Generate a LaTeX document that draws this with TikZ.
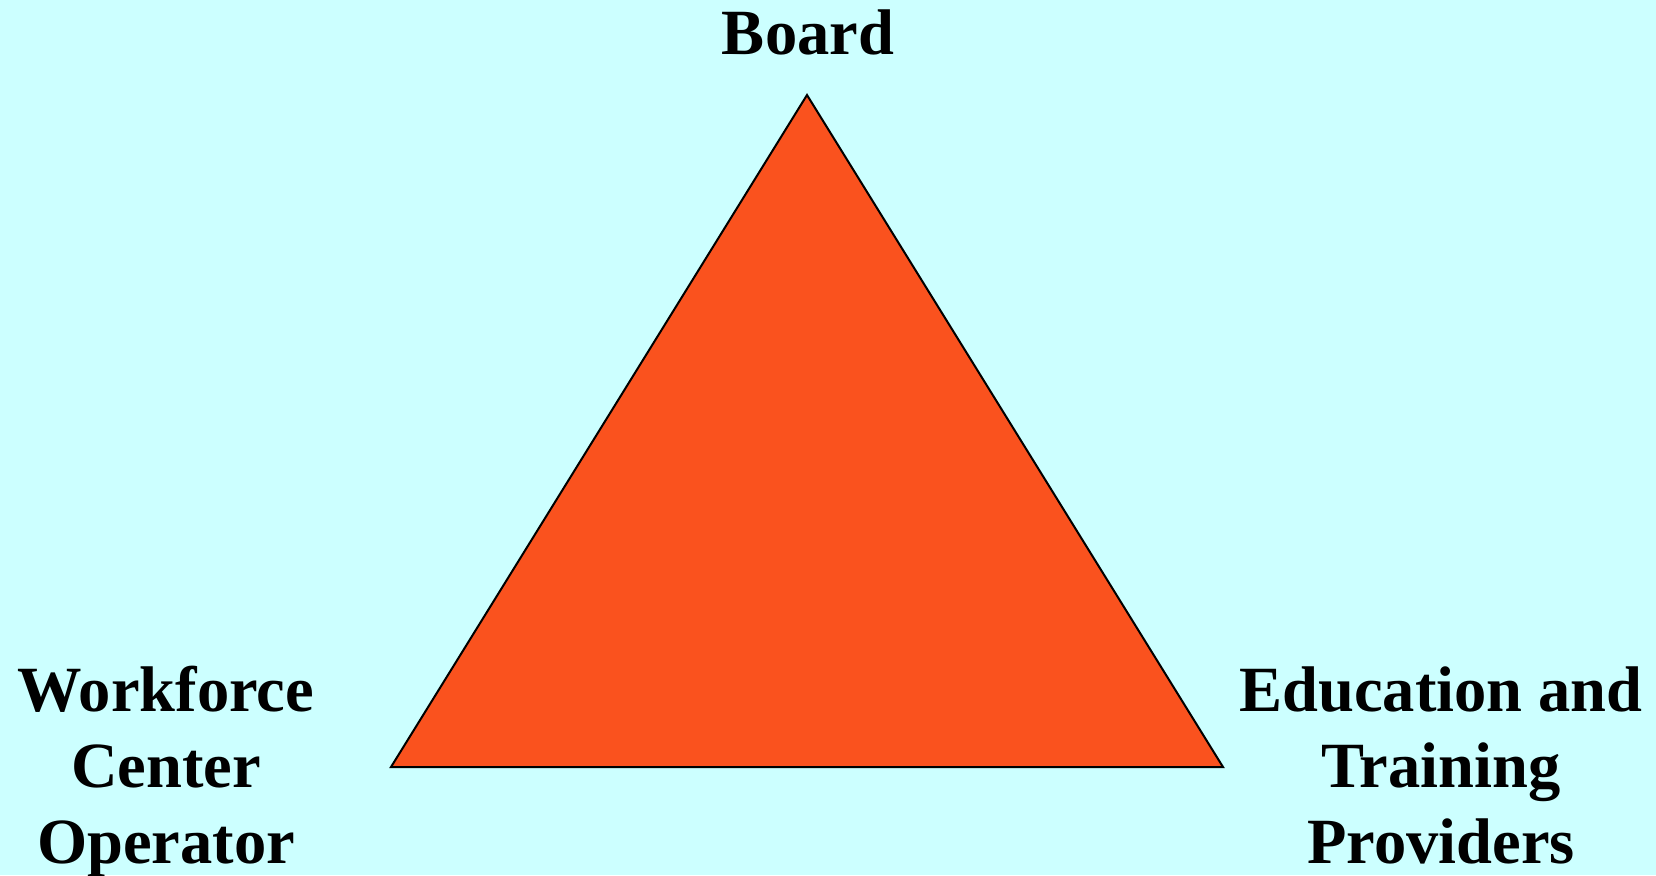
\documentclass[tikz,border=0pt]{standalone}
\usepackage{fontspec}
\setmainfont{Liberation Serif}
\usepackage{xcolor}
\usetikzlibrary{positioning}
\definecolor{skybg}{HTML}{CCFFFF}
\definecolor{tri}{HTML}{FA521E}

\begin{document}
\begin{tikzpicture}[
    x=0.5pt,y=0.5pt,
    every node/.style={font=\fontsize{32.25}{38}\selectfont\bfseries},
    corner/.style={align=center,anchor=base,inner sep=0pt},
    triangle/.style={fill=tri,draw=black,line width=1pt,line join=miter},
]
% Background
\fill[skybg] (0,0) rectangle (1656,875);
\useasboundingbox (0,0) rectangle (1656,875);
% Triangle
\coordinate (top) at (807,780);
\coordinate (left) at (391,108);
\coordinate (right) at (1223,108);
\draw[triangle] (top) -- (left) -- (right) -- cycle;
% Labels (base = last line)
\node[corner] (board) at (808,820) {Board};
\node[corner] (operator) at (166,12) {Workforce\\Center\\Operator};
\node[corner] (providers) at (1441,12) {Education and\\Training\\Providers};
\end{tikzpicture}
\end{document}
